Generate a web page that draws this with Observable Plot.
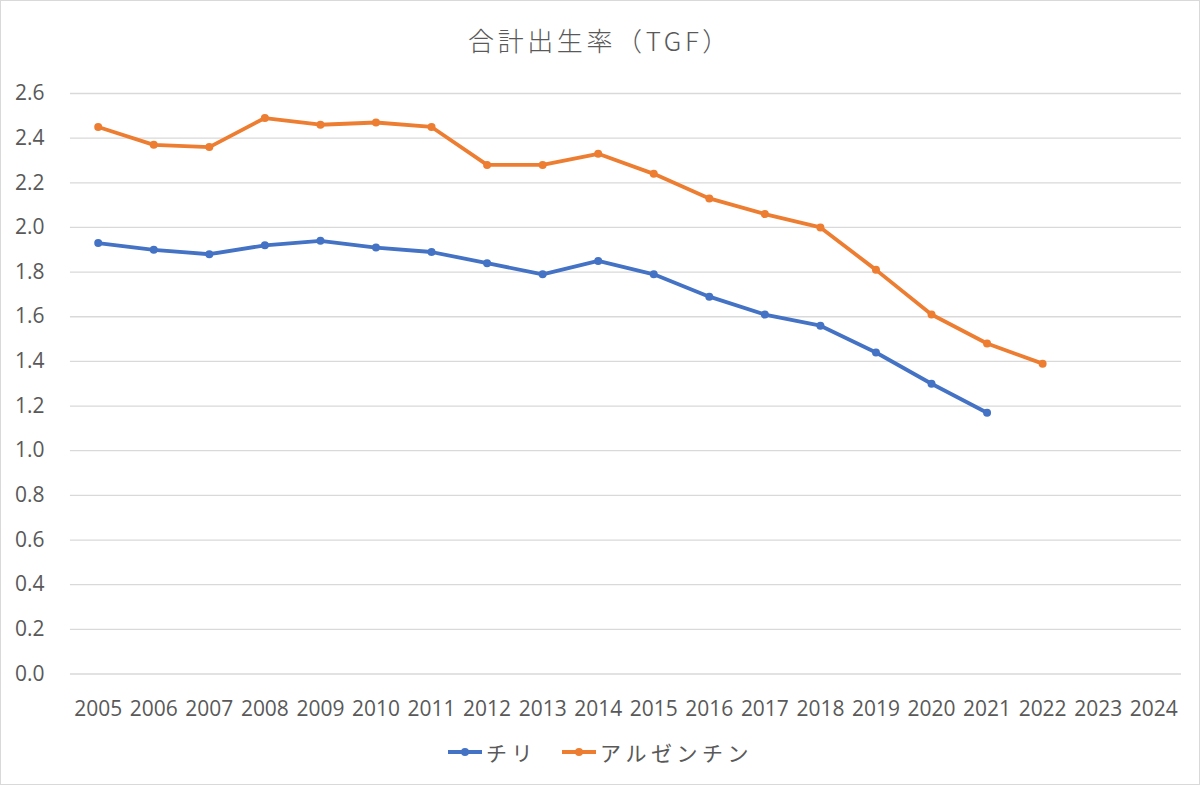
<!DOCTYPE html>
<html>
<head>
<meta charset="utf-8">
<script src="https://cdn.jsdelivr.net/npm/d3@7"></script>
<script src="https://cdn.jsdelivr.net/npm/@observablehq/plot@0.6"></script>
<style>
  html, body { margin: 0; padding: 0; background: #fff; }
  #wrap { position: relative; width: 1198px; height: 783px; border: 1px solid #d9d9d9; overflow: hidden; }
  #title { position: absolute; left: 0; top: 22px; width: 1198px; text-align: center;
    font-family: "Noto Sans CJK JP", sans-serif; font-size: 26px; letter-spacing: 3.6px; color: #595959; font-weight: 300; line-height: 34px; }
  #chart { position: absolute; left: -1px; top: 69px; }
  #legend { position: absolute; left: 0; top: 736px; width: 1198px; display: flex; justify-content: center; align-items: center;
    font-family: "Noto Sans CJK JP", sans-serif; font-size: 21px; color: #595959; letter-spacing: 4.5px; }
  .item { display: flex; align-items: center; margin: 0 12px; }
  .item svg { margin-right: 3px; }
</style>
</head>
<body>
<div id="wrap">
  <div id="title">合計出生率（TGF）</div>
  <div id="chart"></div>
  <div id="legend"></div>
</div>
<script>
const years = ["2005","2006","2007","2008","2009","2010","2011","2012","2013","2014","2015","2016","2017","2018","2019","2020","2021","2022","2023","2024"];
const seriesNames = ["チリ", "アルゼンチン"];
const seriesColors = ["#4472C4", "#ED7D31"];
const chile = [1.93, 1.90, 1.88, 1.92, 1.94, 1.91, 1.89, 1.84, 1.79, 1.85, 1.79, 1.69, 1.61, 1.56, 1.44, 1.30, 1.17];
const argentina = [2.45, 2.37, 2.36, 2.49, 2.46, 2.47, 2.45, 2.28, 2.28, 2.33, 2.24, 2.13, 2.06, 2.00, 1.81, 1.61, 1.48, 1.39];
const yTicks = [0, 0.2, 0.4, 0.6, 0.8, 1.0, 1.2, 1.4, 1.6, 1.8, 2.0, 2.2, 2.4, 2.6];

const data = [
  ...chile.map((v, i) => ({year: years[i], value: v, series: seriesNames[0]})),
  ...argentina.map((v, i) => ({year: years[i], value: v, series: seriesNames[1]}))
];

const chart = Plot.plot({
  width: 1200,
  height: 656,
  marginLeft: 70,
  marginRight: 18,
  marginTop: 23,
  marginBottom: 52,
  style: { fontFamily: "'Open Sans', 'Noto Sans', sans-serif", fontSize: "21px", color: "#595959", background: "transparent" },
  x: { type: "point", domain: years, padding: 0.5, round: false, label: null },
  y: { domain: [0, 2.6], label: null },
  color: { domain: seriesNames, range: seriesColors },
  marks: [
    Plot.ruleY(yTicks, { stroke: "#d9d9d9", strokeWidth: 1.3 }),
    Plot.axisY({ ticks: yTicks, tickSize: 0, tickPadding: 26, tickFormat: d => d.toFixed(1), label: null, fill: "#595959", fontSize: 21 }),
    Plot.axisX({ tickSize: 0, tickPadding: 27, label: null, fill: "#595959", fontSize: 21 }),
    Plot.line(data, { x: "year", y: "value", stroke: "series", z: "series", strokeWidth: 3.8, curve: "linear" }),
    Plot.dot(data, { x: "year", y: "value", fill: "series", r: 4 })
  ]
});
document.getElementById("chart").appendChild(chart);

const legend = document.getElementById("legend");
seriesNames.forEach((name, i) => {
  const item = document.createElement("div");
  item.className = "item";
  item.innerHTML = `<svg width="36" height="12"><line x1="1" y1="6" x2="35" y2="6" stroke="${seriesColors[i]}" stroke-width="3.8"/><circle cx="18" cy="6" r="4" fill="${seriesColors[i]}"/></svg><span>${name}</span>`;
  legend.appendChild(item);
});
</script>
</body>
</html>
